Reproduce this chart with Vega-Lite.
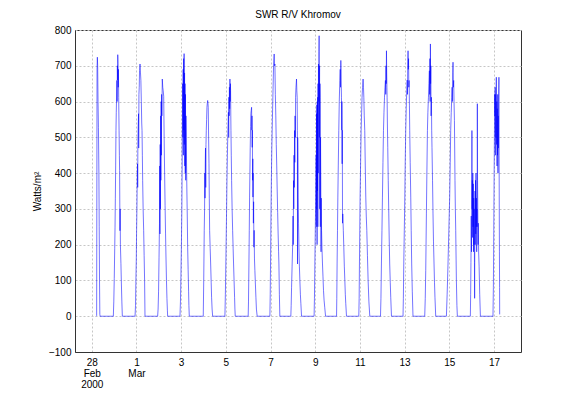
{
"$schema": "https://vega.github.io/schema/vega-lite/v6.json",
"width": 446, "height": 322,
"autosize": {"type": "none"},
"padding": {"left": 75, "top": 30, "right": 55, "bottom": 43},
"background": "white",
"title": {"text": "SWR R/V Khromov", "fontSize": 10, "font": "Liberation Sans", "fontWeight": "normal", "color": "black", "offset": 5},
"config": {
  "view": {"stroke": "#333", "strokeWidth": 1},
  "axis": {"domainColor": "#333", "labelFont": "Liberation Sans", "labelFontSize": 10, "labelColor": "black", "gridColor": "#c6c6c6", "gridDash": [2, 2], "gridWidth": 1, "ticks": false, "titleFont": "Liberation Sans", "titleFontSize": 10, "titleFontWeight": "normal", "titleColor": "black"}
},
"data": {"values": [
{"time":"2000-02-28T04:40","swr":0},{"time":"2000-02-28T05:15","swr":2},{"time":"2000-02-28T05:40","swr":690},{"time":"2000-02-28T06:00","swr":724},{"time":"2000-02-28T06:20","swr":700},{"time":"2000-02-28T06:45","swr":600},{"time":"2000-02-28T07:10","swr":528},{"time":"2000-02-28T07:40","swr":400},{"time":"2000-02-28T08:00","swr":250},{"time":"2000-02-28T08:20","swr":100},{"time":"2000-02-28T08:40","swr":5},{"time":"2000-02-28T09:00","swr":0},
{"time":"2000-02-28T23:10","swr":0},{"time":"2000-02-28T23:40","swr":40},{"time":"2000-02-29T00:10","swr":105},{"time":"2000-02-29T00:40","swr":190},{"time":"2000-02-29T01:00","swr":249},{"time":"2000-02-29T01:20","swr":330},{"time":"2000-02-29T01:40","swr":420},{"time":"2000-02-29T02:00","swr":519},{"time":"2000-02-29T02:20","swr":570},{"time":"2000-02-29T02:40","swr":610},{"time":"2000-02-29T03:00","swr":659},{"time":"2000-02-29T03:15","swr":600},{"time":"2000-02-29T03:30","swr":700},{"time":"2000-02-29T03:45","swr":660},{"time":"2000-02-29T03:55","swr":731},{"time":"2000-02-29T04:10","swr":706},{"time":"2000-02-29T04:25","swr":640},{"time":"2000-02-29T04:40","swr":690},{"time":"2000-02-29T04:55","swr":612},{"time":"2000-02-29T05:20","swr":520},{"time":"2000-02-29T05:40","swr":450},{"time":"2000-02-29T05:55","swr":407},{"time":"2000-02-29T06:15","swr":239},{"time":"2000-02-29T06:30","swr":300},{"time":"2000-02-29T06:45","swr":200},{"time":"2000-02-29T07:20","swr":147},{"time":"2000-02-29T07:50","swr":90},{"time":"2000-02-29T08:20","swr":40},{"time":"2000-02-29T08:50","swr":0},
{"time":"2000-02-29T22:30","swr":0},{"time":"2000-02-29T23:00","swr":30},{"time":"2000-02-29T23:20","swr":91},{"time":"2000-02-29T23:50","swr":160},{"time":"2000-03-01T00:10","swr":240},{"time":"2000-03-01T00:30","swr":300},{"time":"2000-03-01T00:50","swr":380},{"time":"2000-03-01T01:10","swr":426},{"time":"2000-03-01T01:20","swr":360},{"time":"2000-03-01T01:30","swr":480},{"time":"2000-03-01T01:50","swr":530},{"time":"2000-03-01T02:15","swr":566},{"time":"2000-03-01T02:25","swr":470},{"time":"2000-03-01T02:40","swr":620},{"time":"2000-03-01T03:00","swr":640},{"time":"2000-03-01T03:20","swr":687},{"time":"2000-03-01T03:50","swr":705},{"time":"2000-03-01T04:20","swr":680},{"time":"2000-03-01T04:45","swr":659},{"time":"2000-03-01T05:15","swr":600},{"time":"2000-03-01T05:40","swr":540},{"time":"2000-03-01T06:00","swr":519},{"time":"2000-03-01T06:20","swr":450},{"time":"2000-03-01T06:40","swr":379},{"time":"2000-03-01T07:10","swr":300},{"time":"2000-03-01T07:45","swr":240},{"time":"2000-03-01T08:15","swr":170},{"time":"2000-03-01T08:45","swr":100},{"time":"2000-03-01T09:10","swr":0},
{"time":"2000-03-01T22:45","swr":0},{"time":"2000-03-01T23:15","swr":20},{"time":"2000-03-01T23:45","swr":70},{"time":"2000-03-02T00:15","swr":165},{"time":"2000-03-02T00:45","swr":260},{"time":"2000-03-02T01:00","swr":420},{"time":"2000-03-02T01:15","swr":230},{"time":"2000-03-02T01:30","swr":480},{"time":"2000-03-02T01:45","swr":300},{"time":"2000-03-02T02:00","swr":560},{"time":"2000-03-02T02:15","swr":380},{"time":"2000-03-02T02:30","swr":600},{"time":"2000-03-02T02:45","swr":450},{"time":"2000-03-02T03:00","swr":620},{"time":"2000-03-02T03:20","swr":560},{"time":"2000-03-02T03:45","swr":663},{"time":"2000-03-02T04:15","swr":640},{"time":"2000-03-02T04:45","swr":630},{"time":"2000-03-02T05:15","swr":615},{"time":"2000-03-02T05:45","swr":500},{"time":"2000-03-02T06:15","swr":400},{"time":"2000-03-02T06:45","swr":310},{"time":"2000-03-02T07:15","swr":230},{"time":"2000-03-02T07:45","swr":160},{"time":"2000-03-02T08:15","swr":100},{"time":"2000-03-02T08:45","swr":50},{"time":"2000-03-02T09:15","swr":15},{"time":"2000-03-02T09:30","swr":0},
{"time":"2000-03-02T22:45","swr":0},{"time":"2000-03-02T23:15","swr":40},{"time":"2000-03-02T23:45","swr":110},{"time":"2000-03-03T00:15","swr":193},{"time":"2000-03-03T00:45","swr":300},{"time":"2000-03-03T01:05","swr":420},{"time":"2000-03-03T01:25","swr":560},{"time":"2000-03-03T01:40","swr":650},{"time":"2000-03-03T01:55","swr":500},{"time":"2000-03-03T02:10","swr":690},{"time":"2000-03-03T02:25","swr":450},{"time":"2000-03-03T02:40","swr":720},{"time":"2000-03-03T02:55","swr":520},{"time":"2000-03-03T03:10","swr":734},{"time":"2000-03-03T03:25","swr":480},{"time":"2000-03-03T03:40","swr":680},{"time":"2000-03-03T03:55","swr":420},{"time":"2000-03-03T04:10","swr":650},{"time":"2000-03-03T04:25","swr":400},{"time":"2000-03-03T04:40","swr":620},{"time":"2000-03-03T04:55","swr":380},{"time":"2000-03-03T05:10","swr":560},{"time":"2000-03-03T05:30","swr":500},{"time":"2000-03-03T05:50","swr":420},{"time":"2000-03-03T06:10","swr":350},{"time":"2000-03-03T06:35","swr":280},{"time":"2000-03-03T07:00","swr":193},{"time":"2000-03-03T07:30","swr":130},{"time":"2000-03-03T08:00","swr":70},{"time":"2000-03-03T08:20","swr":30},{"time":"2000-03-03T08:45","swr":0},
{"time":"2000-03-03T23:45","swr":0},{"time":"2000-03-04T00:15","swr":100},{"time":"2000-03-04T00:48","swr":240},{"time":"2000-03-04T01:10","swr":300},{"time":"2000-03-04T01:25","swr":400},{"time":"2000-03-04T01:40","swr":330},{"time":"2000-03-04T01:54","swr":426},{"time":"2000-03-04T02:10","swr":470},{"time":"2000-03-04T02:25","swr":360},{"time":"2000-03-04T02:40","swr":480},{"time":"2000-03-04T03:00","swr":519},{"time":"2000-03-04T03:20","swr":550},{"time":"2000-03-04T03:42","swr":584},{"time":"2000-03-04T04:05","swr":595},{"time":"2000-03-04T04:30","swr":603},{"time":"2000-03-04T04:50","swr":595},{"time":"2000-03-04T05:06","swr":584},{"time":"2000-03-04T05:30","swr":500},{"time":"2000-03-04T05:54","swr":426},{"time":"2000-03-04T06:15","swr":330},{"time":"2000-03-04T06:36","swr":240},{"time":"2000-03-04T07:10","swr":190},{"time":"2000-03-04T07:42","swr":146},{"time":"2000-03-04T08:15","swr":95},{"time":"2000-03-04T08:42","swr":53},{"time":"2000-03-04T09:15","swr":20},{"time":"2000-03-04T09:50","swr":0},
{"time":"2000-03-04T23:00","swr":0},{"time":"2000-03-04T23:30","swr":60},{"time":"2000-03-05T00:06","swr":165},{"time":"2000-03-05T00:40","swr":270},{"time":"2000-03-05T01:12","swr":379},{"time":"2000-03-05T01:40","swr":450},{"time":"2000-03-05T02:12","swr":519},{"time":"2000-03-05T02:45","swr":570},{"time":"2000-03-05T03:05","swr":500},{"time":"2000-03-05T03:18","swr":612},{"time":"2000-03-05T03:35","swr":560},{"time":"2000-03-05T03:50","swr":640},{"time":"2000-03-05T04:05","swr":580},{"time":"2000-03-05T04:24","swr":663},{"time":"2000-03-05T04:40","swr":600},{"time":"2000-03-05T04:55","swr":650},{"time":"2000-03-05T05:06","swr":631},{"time":"2000-03-05T05:20","swr":560},{"time":"2000-03-05T05:30","swr":519},{"time":"2000-03-05T05:50","swr":450},{"time":"2000-03-05T06:12","swr":379},{"time":"2000-03-05T06:45","swr":300},{"time":"2000-03-05T07:18","swr":240},{"time":"2000-03-05T07:50","swr":190},{"time":"2000-03-05T08:18","swr":146},{"time":"2000-03-05T08:50","swr":100},{"time":"2000-03-05T09:24","swr":53},{"time":"2000-03-05T09:45","swr":20},{"time":"2000-03-05T10:06","swr":0},
{"time":"2000-03-06T00:00","swr":0},{"time":"2000-03-06T00:20","swr":40},{"time":"2000-03-06T00:48","swr":146},{"time":"2000-03-06T01:10","swr":240},{"time":"2000-03-06T01:30","swr":333},{"time":"2000-03-06T01:50","swr":400},{"time":"2000-03-06T02:12","swr":472},{"time":"2000-03-06T02:35","swr":530},{"time":"2000-03-06T02:54","swr":566},{"time":"2000-03-06T03:15","swr":575},{"time":"2000-03-06T03:40","swr":584},{"time":"2000-03-06T03:55","swr":520},{"time":"2000-03-06T04:05","swr":560},{"time":"2000-03-06T04:18","swr":472},{"time":"2000-03-06T04:30","swr":520},{"time":"2000-03-06T04:45","swr":380},{"time":"2000-03-06T05:00","swr":440},{"time":"2000-03-06T05:06","swr":333},{"time":"2000-03-06T05:20","swr":400},{"time":"2000-03-06T05:35","swr":260},{"time":"2000-03-06T05:50","swr":320},{"time":"2000-03-06T06:06","swr":193},{"time":"2000-03-06T06:25","swr":240},{"time":"2000-03-06T06:45","swr":160},{"time":"2000-03-06T07:12","swr":128},{"time":"2000-03-06T07:45","swr":90},{"time":"2000-03-06T08:18","swr":53},{"time":"2000-03-06T08:50","swr":20},{"time":"2000-03-06T09:40","swr":0},
{"time":"2000-03-06T23:18","swr":0},{"time":"2000-03-06T23:40","swr":60},{"time":"2000-03-07T00:00","swr":146},{"time":"2000-03-07T00:20","swr":240},{"time":"2000-03-07T00:42","swr":333},{"time":"2000-03-07T01:00","swr":400},{"time":"2000-03-07T01:24","swr":472},{"time":"2000-03-07T02:00","swr":550},{"time":"2000-03-07T02:30","swr":612},{"time":"2000-03-07T02:55","swr":660},{"time":"2000-03-07T03:18","swr":705},{"time":"2000-03-07T03:54","swr":733},{"time":"2000-03-07T04:20","swr":700},{"time":"2000-03-07T04:42","swr":705},{"time":"2000-03-07T05:10","swr":620},{"time":"2000-03-07T05:40","swr":560},{"time":"2000-03-07T06:10","swr":480},{"time":"2000-03-07T06:40","swr":420},{"time":"2000-03-07T07:10","swr":350},{"time":"2000-03-07T07:40","swr":290},{"time":"2000-03-07T08:10","swr":230},{"time":"2000-03-07T08:40","swr":180},{"time":"2000-03-07T09:00","swr":146},{"time":"2000-03-07T09:30","swr":60},{"time":"2000-03-07T10:00","swr":0},
{"time":"2000-03-07T21:48","swr":0},{"time":"2000-03-07T22:10","swr":30},{"time":"2000-03-07T22:36","swr":81},{"time":"2000-03-07T23:10","swr":140},{"time":"2000-03-07T23:42","swr":193},{"time":"2000-03-08T00:10","swr":280},{"time":"2000-03-08T00:25","swr":200},{"time":"2000-03-08T00:42","swr":379},{"time":"2000-03-08T01:00","swr":300},{"time":"2000-03-08T01:15","swr":450},{"time":"2000-03-08T01:30","swr":360},{"time":"2000-03-08T01:48","swr":519},{"time":"2000-03-08T02:05","swr":430},{"time":"2000-03-08T02:20","swr":560},{"time":"2000-03-08T02:40","swr":500},{"time":"2000-03-08T02:54","swr":612},{"time":"2000-03-08T03:20","swr":640},{"time":"2000-03-08T03:54","swr":663},{"time":"2000-03-08T04:15","swr":630},{"time":"2000-03-08T04:36","swr":612},{"time":"2000-03-08T04:50","swr":519},{"time":"2000-03-08T05:00","swr":146},{"time":"2000-03-08T05:10","swr":500},{"time":"2000-03-08T05:18","swr":472},{"time":"2000-03-08T05:42","swr":333},{"time":"2000-03-08T06:05","swr":260},{"time":"2000-03-08T06:30","swr":193},{"time":"2000-03-08T07:00","swr":140},{"time":"2000-03-08T07:30","swr":100},{"time":"2000-03-08T08:05","swr":60},{"time":"2000-03-08T08:36","swr":35},{"time":"2000-03-08T09:18","swr":0},
{"time":"2000-03-08T22:48","swr":0},{"time":"2000-03-08T23:10","swr":50},{"time":"2000-03-08T23:36","swr":146},{"time":"2000-03-09T00:10","swr":260},{"time":"2000-03-09T00:42","swr":379},{"time":"2000-03-09T01:00","swr":450},{"time":"2000-03-09T01:12","swr":250},{"time":"2000-03-09T01:24","swr":566},{"time":"2000-03-09T01:36","swr":300},{"time":"2000-03-09T01:48","swr":590},{"time":"2000-03-09T02:00","swr":200},{"time":"2000-03-09T02:12","swr":600},{"time":"2000-03-09T02:24","swr":350},{"time":"2000-03-09T02:36","swr":612},{"time":"2000-03-09T02:48","swr":250},{"time":"2000-03-09T03:00","swr":650},{"time":"2000-03-09T03:15","swr":400},{"time":"2000-03-09T03:30","swr":705},{"time":"2000-03-09T03:50","swr":600},{"time":"2000-03-09T04:00","swr":740},{"time":"2000-03-09T04:12","swr":784},{"time":"2000-03-09T04:25","swr":500},{"time":"2000-03-09T04:40","swr":700},{"time":"2000-03-09T04:50","swr":300},{"time":"2000-03-09T05:05","swr":650},{"time":"2000-03-09T05:18","swr":612},{"time":"2000-03-09T05:30","swr":250},{"time":"2000-03-09T05:42","swr":500},{"time":"2000-03-09T06:00","swr":379},{"time":"2000-03-09T06:15","swr":180},{"time":"2000-03-09T06:30","swr":330},{"time":"2000-03-09T06:48","swr":240},{"time":"2000-03-09T07:15","swr":190},{"time":"2000-03-09T07:48","swr":146},{"time":"2000-03-09T08:20","swr":110},{"time":"2000-03-09T08:54","swr":72},{"time":"2000-03-09T09:30","swr":45},{"time":"2000-03-09T10:12","swr":25},{"time":"2000-03-09T11:06","swr":0},
{"time":"2000-03-09T22:54","swr":0},{"time":"2000-03-09T23:10","swr":50},{"time":"2000-03-09T23:30","swr":146},{"time":"2000-03-09T23:55","swr":240},{"time":"2000-03-10T00:18","swr":333},{"time":"2000-03-10T00:45","swr":420},{"time":"2000-03-10T01:18","swr":519},{"time":"2000-03-10T01:50","swr":600},{"time":"2000-03-10T02:24","swr":659},{"time":"2000-03-10T02:50","swr":690},{"time":"2000-03-10T03:10","swr":640},{"time":"2000-03-10T03:30","swr":715},{"time":"2000-03-10T03:50","swr":660},{"time":"2000-03-10T04:12","swr":612},{"time":"2000-03-10T04:30","swr":520},{"time":"2000-03-10T04:40","swr":600},{"time":"2000-03-10T04:54","swr":426},{"time":"2000-03-10T05:05","swr":520},{"time":"2000-03-10T05:20","swr":260},{"time":"2000-03-10T05:36","swr":286},{"time":"2000-03-10T06:10","swr":240},{"time":"2000-03-10T06:42","swr":193},{"time":"2000-03-10T07:15","swr":140},{"time":"2000-03-10T07:48","swr":100},{"time":"2000-03-10T08:20","swr":60},{"time":"2000-03-10T08:48","swr":35},{"time":"2000-03-10T09:36","swr":0},
{"time":"2000-03-10T22:48","swr":0},{"time":"2000-03-10T23:10","swr":50},{"time":"2000-03-10T23:30","swr":146},{"time":"2000-03-10T23:50","swr":240},{"time":"2000-03-11T00:12","swr":333},{"time":"2000-03-11T00:45","swr":430},{"time":"2000-03-11T01:18","swr":519},{"time":"2000-03-11T01:50","swr":570},{"time":"2000-03-11T02:18","swr":612},{"time":"2000-03-11T02:50","swr":640},{"time":"2000-03-11T03:24","swr":663},{"time":"2000-03-11T03:50","swr":640},{"time":"2000-03-11T04:12","swr":612},{"time":"2000-03-11T04:40","swr":560},{"time":"2000-03-11T05:12","swr":519},{"time":"2000-03-11T05:45","swr":420},{"time":"2000-03-11T06:18","swr":333},{"time":"2000-03-11T06:50","swr":280},{"time":"2000-03-11T07:24","swr":240},{"time":"2000-03-11T08:05","swr":170},{"time":"2000-03-11T08:48","swr":100},{"time":"2000-03-11T09:40","swr":40},{"time":"2000-03-11T10:36","swr":0},
{"time":"2000-03-11T22:06","swr":0},{"time":"2000-03-11T22:35","swr":50},{"time":"2000-03-11T23:06","swr":146},{"time":"2000-03-11T23:40","swr":240},{"time":"2000-03-12T00:12","swr":333},{"time":"2000-03-12T00:45","swr":430},{"time":"2000-03-12T01:18","swr":519},{"time":"2000-03-12T01:50","swr":570},{"time":"2000-03-12T02:24","swr":612},{"time":"2000-03-12T02:55","swr":640},{"time":"2000-03-12T03:24","swr":659},{"time":"2000-03-12T03:45","swr":620},{"time":"2000-03-12T04:00","swr":700},{"time":"2000-03-12T04:15","swr":650},{"time":"2000-03-12T04:30","swr":742},{"time":"2000-03-12T04:45","swr":680},{"time":"2000-03-12T05:00","swr":640},{"time":"2000-03-12T05:12","swr":612},{"time":"2000-03-12T05:30","swr":540},{"time":"2000-03-12T05:54","swr":472},{"time":"2000-03-12T06:25","swr":380},{"time":"2000-03-12T07:00","swr":286},{"time":"2000-03-12T07:30","swr":210},{"time":"2000-03-12T08:00","swr":146},{"time":"2000-03-12T08:35","swr":95},{"time":"2000-03-12T09:06","swr":53},{"time":"2000-03-12T09:54","swr":0},
{"time":"2000-03-12T22:18","swr":0},{"time":"2000-03-12T22:40","swr":50},{"time":"2000-03-12T23:06","swr":146},{"time":"2000-03-12T23:40","swr":240},{"time":"2000-03-13T00:12","swr":333},{"time":"2000-03-13T00:40","swr":430},{"time":"2000-03-13T01:12","swr":519},{"time":"2000-03-13T01:45","swr":580},{"time":"2000-03-13T02:18","swr":631},{"time":"2000-03-13T02:45","swr":660},{"time":"2000-03-13T03:05","swr":620},{"time":"2000-03-13T03:20","swr":700},{"time":"2000-03-13T03:42","swr":742},{"time":"2000-03-13T04:00","swr":690},{"time":"2000-03-13T04:15","swr":720},{"time":"2000-03-13T04:30","swr":640},{"time":"2000-03-13T04:48","swr":659},{"time":"2000-03-13T05:10","swr":590},{"time":"2000-03-13T05:30","swr":519},{"time":"2000-03-13T06:00","swr":430},{"time":"2000-03-13T06:36","swr":333},{"time":"2000-03-13T07:05","swr":240},{"time":"2000-03-13T07:36","swr":146},{"time":"2000-03-13T08:15","swr":70},{"time":"2000-03-13T09:00","swr":0},
{"time":"2000-03-13T21:36","swr":0},{"time":"2000-03-13T22:10","swr":50},{"time":"2000-03-13T22:42","swr":128},{"time":"2000-03-13T23:24","swr":286},{"time":"2000-03-13T23:55","swr":400},{"time":"2000-03-14T00:30","swr":519},{"time":"2000-03-14T01:00","swr":570},{"time":"2000-03-14T01:36","swr":612},{"time":"2000-03-14T02:05","swr":650},{"time":"2000-03-14T02:36","swr":686},{"time":"2000-03-14T02:55","swr":620},{"time":"2000-03-14T03:10","swr":720},{"time":"2000-03-14T03:25","swr":600},{"time":"2000-03-14T03:42","swr":761},{"time":"2000-03-14T03:55","swr":650},{"time":"2000-03-14T04:10","swr":700},{"time":"2000-03-14T04:25","swr":560},{"time":"2000-03-14T04:48","swr":612},{"time":"2000-03-14T05:05","swr":520},{"time":"2000-03-14T05:24","swr":472},{"time":"2000-03-14T06:00","swr":380},{"time":"2000-03-14T06:30","swr":286},{"time":"2000-03-14T07:00","swr":210},{"time":"2000-03-14T07:36","swr":146},{"time":"2000-03-14T08:05","swr":95},{"time":"2000-03-14T08:36","swr":53},{"time":"2000-03-14T09:24","swr":0},
{"time":"2000-03-14T20:54","swr":0},{"time":"2000-03-14T21:40","swr":60},{"time":"2000-03-14T22:36","swr":146},{"time":"2000-03-14T23:30","swr":240},{"time":"2000-03-15T00:24","swr":333},{"time":"2000-03-15T01:00","swr":430},{"time":"2000-03-15T01:30","swr":519},{"time":"2000-03-15T02:05","swr":570},{"time":"2000-03-15T02:36","swr":612},{"time":"2000-03-15T03:00","swr":640},{"time":"2000-03-15T03:20","swr":600},{"time":"2000-03-15T03:40","swr":680},{"time":"2000-03-15T04:00","swr":710},{"time":"2000-03-15T04:20","swr":640},{"time":"2000-03-15T04:42","swr":659},{"time":"2000-03-15T05:05","swr":600},{"time":"2000-03-15T05:30","swr":547},{"time":"2000-03-15T06:06","swr":379},{"time":"2000-03-15T06:30","swr":300},{"time":"2000-03-15T06:54","swr":240},{"time":"2000-03-15T07:36","swr":100},{"time":"2000-03-15T08:10","swr":30},{"time":"2000-03-15T08:40","swr":0},
{"time":"2000-03-15T22:36","swr":0},{"time":"2000-03-15T22:55","swr":60},{"time":"2000-03-15T23:15","swr":150},{"time":"2000-03-15T23:35","swr":280},{"time":"2000-03-15T23:50","swr":180},{"time":"2000-03-16T00:05","swr":350},{"time":"2000-03-16T00:18","swr":519},{"time":"2000-03-16T00:30","swr":300},{"time":"2000-03-16T00:45","swr":380},{"time":"2000-03-16T01:00","swr":220},{"time":"2000-03-16T01:15","swr":400},{"time":"2000-03-16T01:30","swr":250},{"time":"2000-03-16T01:45","swr":370},{"time":"2000-03-16T02:00","swr":180},{"time":"2000-03-16T02:15","swr":330},{"time":"2000-03-16T02:30","swr":200},{"time":"2000-03-16T02:45","swr":300},{"time":"2000-03-16T03:00","swr":150},{"time":"2000-03-16T03:12","swr":50},{"time":"2000-03-16T03:25","swr":260},{"time":"2000-03-16T03:40","swr":350},{"time":"2000-03-16T03:55","swr":200},{"time":"2000-03-16T04:10","swr":380},{"time":"2000-03-16T04:25","swr":230},{"time":"2000-03-16T04:40","swr":400},{"time":"2000-03-16T04:55","swr":250},{"time":"2000-03-16T05:10","swr":330},{"time":"2000-03-16T05:25","swr":180},{"time":"2000-03-16T05:40","swr":300},{"time":"2000-03-16T05:55","swr":250},{"time":"2000-03-16T06:06","swr":594},{"time":"2000-03-16T06:20","swr":380},{"time":"2000-03-16T06:35","swr":300},{"time":"2000-03-16T06:50","swr":200},{"time":"2000-03-16T07:10","swr":260},{"time":"2000-03-16T07:30","swr":180},{"time":"2000-03-16T08:00","swr":140},{"time":"2000-03-16T08:40","swr":60},{"time":"2000-03-16T09:24","swr":0},
{"time":"2000-03-16T22:54","swr":0},{"time":"2000-03-16T23:20","swr":80},{"time":"2000-03-16T23:45","swr":240},{"time":"2000-03-17T00:10","swr":400},{"time":"2000-03-17T00:30","swr":520},{"time":"2000-03-17T00:45","swr":620},{"time":"2000-03-17T01:00","swr":560},{"time":"2000-03-17T01:15","swr":640},{"time":"2000-03-17T01:30","swr":450},{"time":"2000-03-17T01:45","swr":620},{"time":"2000-03-17T02:00","swr":500},{"time":"2000-03-17T02:15","swr":600},{"time":"2000-03-17T02:30","swr":668},{"time":"2000-03-17T02:45","swr":480},{"time":"2000-03-17T03:00","swr":600},{"time":"2000-03-17T03:15","swr":420},{"time":"2000-03-17T03:30","swr":580},{"time":"2000-03-17T03:45","swr":450},{"time":"2000-03-17T04:00","swr":620},{"time":"2000-03-17T04:15","swr":400},{"time":"2000-03-17T04:30","swr":560},{"time":"2000-03-17T04:45","swr":470},{"time":"2000-03-17T05:00","swr":600},{"time":"2000-03-17T05:18","swr":668},{"time":"2000-03-17T05:30","swr":450},{"time":"2000-03-17T05:40","swr":300},{"time":"2000-03-17T05:50","swr":180},{"time":"2000-03-17T06:00","swr":80},{"time":"2000-03-17T06:06","swr":5}
]},
"mark": {"type": "line", "color": "#0000ff", "strokeWidth": 0.55},
"encoding": {
  "x": {"field": "time", "type": "temporal",
    "scale": {"domain": [{"year": 2000, "month": "feb", "date": 27, "hours": 6}, {"year": 2000, "month": "mar", "date": 18, "hours": 5}]},
    "axis": {"title": null, "grid": true, "labelPadding": 5, "labelLineHeight": 11, "labelOverlap": false, "labelBound": false, "labelFlush": false, "labelAlign": "center", "labelBaseline": "top",
      "values": [{"year": 2000, "month": "feb", "date": 28}, {"year": 2000, "month": "mar", "date": 1}, {"year": 2000, "month": "mar", "date": 3}, {"year": 2000, "month": "mar", "date": 5}, {"year": 2000, "month": "mar", "date": 7}, {"year": 2000, "month": "mar", "date": 9}, {"year": 2000, "month": "mar", "date": 11}, {"year": 2000, "month": "mar", "date": 13}, {"year": 2000, "month": "mar", "date": 15}, {"year": 2000, "month": "mar", "date": 17}],
      "labelExpr": "date(datum.value) == 28 ? ['28', 'Feb', '2000'] : (date(datum.value) == 1 ? ['1', 'Mar'] : '' + date(datum.value))"}},
  "y": {"field": "swr", "type": "quantitative",
    "scale": {"domain": [-100, 800], "nice": false, "zero": false},
    "axis": {"title": "Watts/m²", "grid": true, "labelPadding": 4, "titlePadding": 6, "values": [-100, 0, 100, 200, 300, 400, 500, 600, 700, 800]}}
}
}
